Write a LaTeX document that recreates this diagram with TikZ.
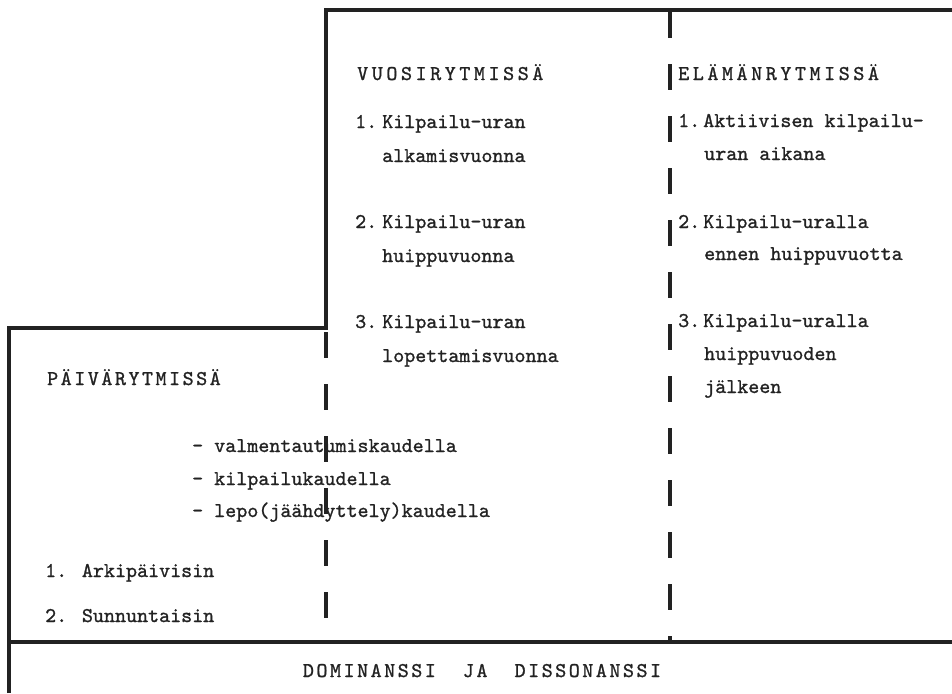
\documentclass[tikz,border=0pt]{standalone}
\usepackage{fontspec}
\usepackage{tikz}

\newfontfamily\typer{lmmono10-regular.otf}[FakeBold=1.1]
\newfontfamily\typercaps{lmmono10-regular.otf}[FakeBold=1.1, LetterSpace=12]
\newfontfamily\typerwide{lmmono10-regular.otf}[FakeBold=1.1, LetterSpace=17]
\definecolor{ink}{HTML}{222222}

\begin{document}
\begin{tikzpicture}[
    x=1pt, y=-1pt,
    txt/.style={anchor=base west, inner sep=0pt, text=ink,
                font=\typer\fontsize{21}{25}\selectfont},
    head/.style={txt, font=\typercaps\fontsize{21}{25}\selectfont},
    widehead/.style={txt, font=\typerwide\fontsize{21}{25}\selectfont},
    frame/.style={draw=ink, line width=3.4pt},
    split/.style={draw=ink, line width=3.4pt, dash pattern=on 26pt off 26pt}
  ]
  \useasboundingbox (0,0) rectangle (952,693);
  % Outline
  \coordinate (lb) at (9,693);
  \coordinate (lc) at (9,328);
  \coordinate (mc) at (326,328);
  \coordinate (mt) at (326,10);
  \coordinate (rt) at (952,10);
  \coordinate (sl) at (9,642);
  \coordinate (sr) at (952,642);
  \coordinate (ms) at (326,642);
  \coordinate (dt) at (670,12);
  \coordinate (ds) at (670,642);
  \draw[frame] (lb) -- (lc) -- (mc) -- (mt) -- (rt);
  \draw[frame] (sl) -- (sr);
  % Dashed dividers
  \draw[split, dash phase=-4pt] (mc) -- (ms);
  \draw[split] (dt) -- (ds);
  % Year rhythm
  \node[widehead] (vuosi) at (357,80) {VUOSIRYTMISSÄ};
  \node[txt] (v1) at (355,128) {1.\hspace{5pt}Kilpailu-uran};
  \node[txt] (v1b) at (382,162) {alkamisvuonna};
  \node[txt] (v2) at (355,228) {2.\hspace{5pt}Kilpailu-uran};
  \node[txt] (v2b) at (382,262) {huippuvuonna};
  \node[txt] (v3) at (355,328) {3.\hspace{5pt}Kilpailu-uran};
  \node[txt] (v3b) at (382,362) {lopettamisvuonna};
  % Life rhythm
  \node[widehead] (elama) at (678,80) {ELÄMÄNRYTMISSÄ};
  \node[txt] (e1) at (678,127) {1.\hspace{3pt}Aktiivisen kilpailu-};
  \node[txt] (e1b) at (704,160) {uran aikana};
  \node[txt] (e2) at (678,228) {2.\hspace{3pt}Kilpailu-uralla};
  \node[txt] (e2b) at (704,260) {ennen huippuvuotta};
  \node[txt] (e3) at (678,327) {3.\hspace{3pt}Kilpailu-uralla};
  \node[txt] (e3b) at (704,360) {huippuvuoden};
  \node[txt] (e3c) at (704,393) {jälkeen};
  % Day rhythm
  \node[head] (paiva) at (47,385) {PÄIVÄRYTMISSÄ};
  \node[txt] (k1) at (192,452) {- valmentautumiskaudella};
  \node[txt] (k2) at (192,485) {- kilpailukaudella};
  \node[txt] (k3) at (192,517) {- lepo(jäähdyttely)kaudella};
  \node[txt] (p1) at (45,577) {1. Arkipäivisin};
  \node[txt] (p2) at (45,622) {2. Sunnuntaisin};
  % Bottom band
  \node[head, anchor=base] (domi) at (482,677) {DOMINANSSI\ \ JA\ \ DISSONANSSI};
\end{tikzpicture}
\end{document}
